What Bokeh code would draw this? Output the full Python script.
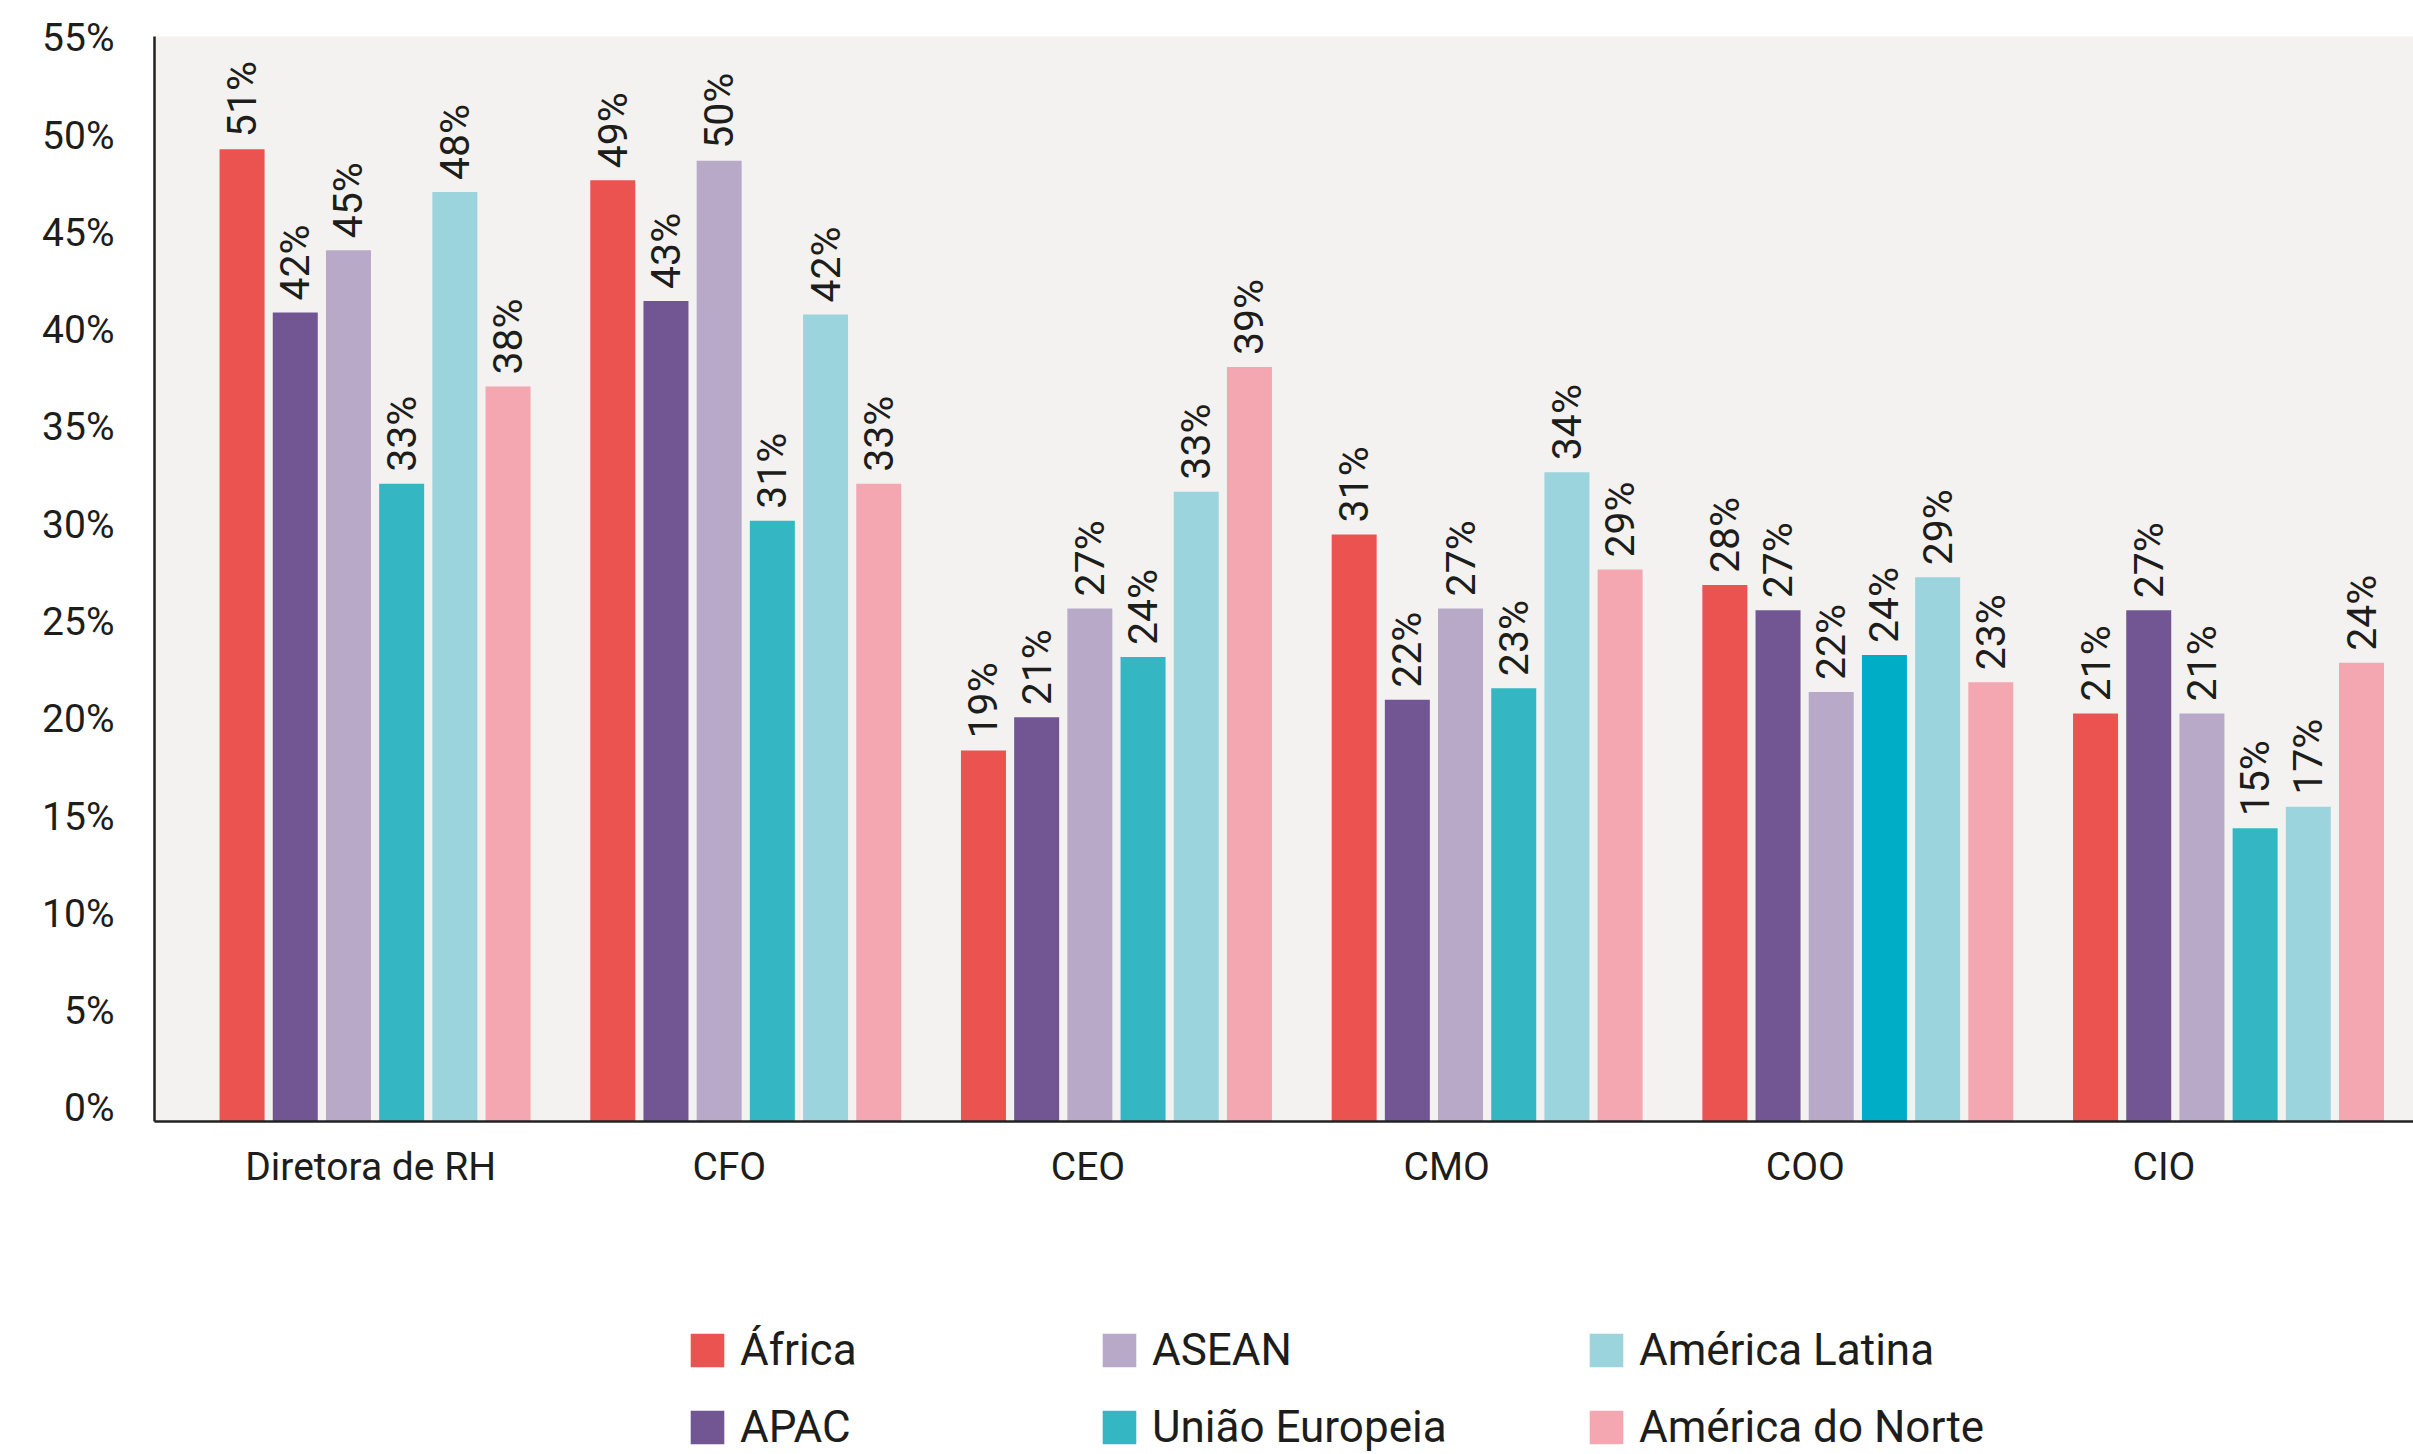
import math
from bokeh.plotting import figure
from bokeh.layouts import column
from bokeh.models import (ColumnDataSource, Range1d, FixedTicker, PrintfTickFormatter,
                          CustomJSTickFormatter, Legend, LegendItem)
from bokeh.core.properties import value
from bokeh.embed import file_html
from bokeh.resources import INLINE

# ---------------- data ----------------
categories = ["Diretora de RH", "CFO", "CEO", "CMO", "COO", "CIO"]
series_names = ["África", "APAC", "ASEAN", "União Europeia", "América Latina", "América do Norte"]

# bar heights as drawn against the y axis (%)
africa = [49.3, 47.7, 18.4, 29.5, 26.9, 20.3]
apac = [40.9, 41.5, 20.1, 21.0, 25.6, 25.6]
asean = [44.1, 48.7, 25.7, 25.7, 21.4, 20.3]
uniao_europeia = [32.1, 30.2, 23.2, 21.6, 23.3, 14.4]
america_latina = [47.1, 40.8, 31.7, 32.7, 27.3, 15.5]
america_do_norte = [37.1, 32.1, 38.1, 27.7, 21.9, 22.9]

# printed data labels (%)
africa_lbl = [51, 49, 19, 31, 28, 21]
apac_lbl = [42, 43, 21, 22, 27, 27]
asean_lbl = [45, 50, 27, 27, 22, 21]
uniao_europeia_lbl = [33, 31, 24, 23, 24, 15]
america_latina_lbl = [48, 42, 33, 34, 29, 17]
america_do_norte_lbl = [38, 33, 39, 29, 23, 24]

y_ticks = [0, 5, 10, 15, 20, 25, 30, 35, 40, 45, 50, 55]

# ---------------- style ----------------
colors = ["#EB5350", "#725694", "#B8A9C9", "#34B6C3", "#9BD4DC", "#F4A6B1"]
eu_colors = ["#34B6C3", "#34B6C3", "#34B6C3", "#34B6C3", "#00ADC6", "#34B6C3"]
FONT = "Roboto"
TEXT = "#1d1d1b"

W = 2413
H_MAIN, H_LEG = 1290, 164
LEFT, TOP = 154, 36
BOTTOM = H_MAIN - TOP - 1085
Y_START, Y_END = -0.67, 55.09
X_START, X_END = -0.595, 5.499
BAR_STEP, BAR_W = 0.1435, 0.1214
LABEL_OFF, LABEL_STEP = -0.012, 0.9676

p = figure(width=W, height=H_MAIN, output_backend="svg", toolbar_location=None,
           x_range=Range1d(X_START, X_END), y_range=Range1d(Y_START, Y_END),
           min_border_left=LEFT, min_border_right=0, min_border_top=TOP,
           min_border_bottom=BOTTOM)
p.background_fill_color = "#F3F2F0"
p.border_fill_color = "white"
p.outline_line_color = None
p.grid.visible = False

# legend-only figure below the chart
p2 = figure(width=W, height=H_LEG, output_backend="svg", toolbar_location=None,
            x_range=Range1d(0, 1), y_range=Range1d(0, 1),
            x_axis_location=None, y_axis_location=None,
            min_border_left=LEFT, min_border_right=0, min_border_top=0, min_border_bottom=0)
p2.outline_line_color = None
p2.grid.visible = False
p2.background_fill_color = "white"
p2.border_fill_color = "white"

all_vals = [africa, apac, asean, uniao_europeia, america_latina, america_do_norte]
all_lbls = [africa_lbl, apac_lbl, asean_lbl, uniao_europeia_lbl, america_latina_lbl, america_do_norte_lbl]

legend_renderers = []
for j, (vals, lbls) in enumerate(zip(all_vals, all_lbls)):
    xs = [i + (j - 2.5) * BAR_STEP for i in range(len(categories))]
    cols = eu_colors if j == 3 else [colors[j]] * len(categories)
    src = ColumnDataSource(dict(x=xs, top=vals, color=cols,
                                label=[f"{v}%" for v in lbls]))
    p.vbar(x="x", top="top", bottom=Y_START, width=BAR_W, source=src,
           fill_color="color", line_color=None)
    p.text(x="x", y="top", text="label", source=src, angle=math.pi / 2,
           text_align="left", text_baseline="middle", y_offset=-12,
           text_font=value(FONT), text_font_size="41px", text_color=TEXT)
    lr = p2.vbar(x="x", top="top", bottom=Y_START, width=BAR_W, source=src,
                 fill_color="color", line_color=None, visible=False)
    legend_renderers.append(lr)

# axes
p.yaxis.ticker = FixedTicker(ticks=y_ticks)
p.yaxis.formatter = PrintfTickFormatter(format="%d%%")
p.xaxis.ticker = FixedTicker(ticks=[LABEL_OFF + i * LABEL_STEP for i in range(len(categories))])
p.xaxis.formatter = CustomJSTickFormatter(
    args=dict(names=categories, off=LABEL_OFF, step=LABEL_STEP),
    code="return names[Math.round((tick - off) / step)]")
for ax in (p.xaxis, p.yaxis):
    ax.axis_line_color = "#222222"
    ax.axis_line_width = 2.5
    ax.major_tick_line_color = None
    ax.minor_tick_line_color = None
    ax.major_tick_out = 0
    ax.major_tick_in = 0
    ax.major_label_text_font = FONT
    ax.major_label_text_font_size = "39px"
    ax.major_label_text_color = TEXT
p.yaxis.major_label_standoff = 40
p.xaxis.major_label_standoff = 22

# legend: three columns of two items (x measured from the frame's left edge)
col_x = [532, 944, 1431]
for c in range(3):
    items = [LegendItem(label=series_names[2 * c + k], renderers=[legend_renderers[2 * c + k]], index=0)
             for k in range(2)]
    lg = Legend(items=items, location=(col_x[c], 1), orientation="vertical",
                glyph_width=42, glyph_height=42, label_standoff=12, spacing=25,
                padding=0, margin=0, border_line_color=None, background_fill_alpha=0,
                inactive_fill_alpha=0,
                label_text_font=FONT, label_text_font_size="44px", label_text_color=TEXT,
                label_height=42)
    p2.add_layout(lg, "center")

layout = column(p, p2, spacing=0)
open("out.html", "w").write(file_html(layout, INLINE))
